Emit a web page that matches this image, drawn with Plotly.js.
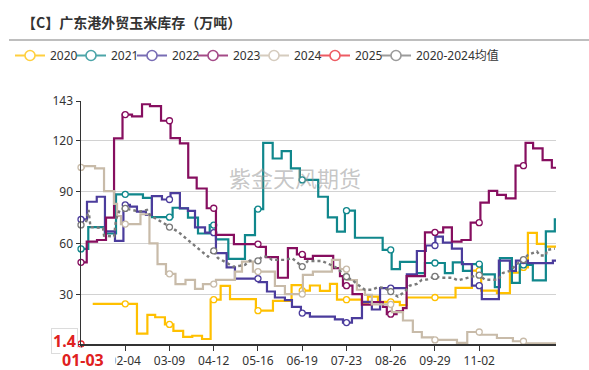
<!DOCTYPE html>
<html><head><meta charset="utf-8">
<script src="https://cdn.plot.ly/plotly-3.0.1.min.js"></script>
<style>html,body{margin:0;padding:0;background:#fff}#chart{width:589px;height:370px}</style>
</head><body><div id="chart"></div>
<script>
// category index axis (366 daily categories, labels every 34)
const tickIdx = [0,34,68,102,136,170,204,238,272,306];
const tickLabels = ['01-03','02-04','03-09','04-12','05-16','06-19','07-23','08-26','09-29','11-02'];
const markerIdx = [0,34,68,102,136,170,204,238,272,306,340];
const xEnd = 365;
const yTicks = [1.4,30,60,90,120,143];

const x2020 = [9,43,51,57,64.5,71,78.5,85.5,93,99.6,107.3,114.5,134.4,147.5,161.8,169.8,175.9,183.6,191.3,196.7,215.9,220.5,228.2,245,250.4,287.8,300.4,307.5,319.6,329.6,337.2,343.4,350.3,357.2,365];
const y2020 = [24.8,7.5,18.4,17,12.8,9,5.5,6.2,4.3,27.2,35.3,27.5,20.8,26.5,35.7,32.5,35.5,32.3,36.4,27.2,25.5,29,26,24,28.5,34.1,44.2,32.5,31,43,46,66.2,59.7,58.2,58.2];

const x2021 = [0,5.6,18.4,26.9,47.6,54.5,70.4,76,82.2,89.9,98.9,103.7,113.2,126,133.7,140,147.3,154.2,161.3,168.2,182.3,189.7,196.7,202.8,210.5,231.8,238.7,245.1,258.1,264.3,279.6,285.7,293.5,300.4,308,318,321.9,331.1,337.2,347.2,357.2,364.1,365];
const y2021 = [56.8,69.5,65.8,88.6,86.6,75.3,80.8,80.4,75,65.8,70.7,62.4,51,64.9,80,118.6,109.5,113.8,103.7,97,87.2,75.2,66.9,79.1,63.3,56.2,45,49.2,42.7,48.6,42.7,49,44,48,42,34.5,51.4,37,47.5,38.5,67,74,74];

const x2022 = [0,4.6,12.1,18.4,26.1,32.6,37.6,43,49.9,54.5,62.2,68.8,76,82.2,87.6,95.3,103.7,111.9,118.3,136.5,142.9,149,156.7,162.1,169,175.9,195.1,201.3,208.2,215.9,223.5,229.8,250.4,258.1,265,272.3,278.1,285,292.7,300.4,308,321.1,329.6,334.2,343.4,362.6,365];
const y2022 = [74,84.3,87.2,67,61.5,82.5,81.4,78.5,76.7,87.6,85.6,89.3,80.5,79,69.4,66.3,54.3,46,39.5,37.5,32,28.5,27,23,19.4,17.4,15.8,13.9,16.5,26,21.5,34,42,55.6,58.8,64,60.5,57,48,35.4,27.5,50,44,50,48.5,50,50];

const x2023 = [0,4.4,12.3,19.2,25.4,31.9,39.2,46.9,53,61.5,68.8,76,82.4,88.9,96.6,103.7,117.5,136.5,142.1,151.3,159,165.9,172.1,178.2,193.8,199,201.3,208.6,215.9,223.5,232,235,242.5,247.4,250.2,264.3,278.3,285,292.4,299.4,306.9,313.4,319.8,326.5,333.9,341.6,347.4,354.7,361.8,365];
const y2023 = [49,61,62,75,121.2,135.1,134,141.1,140,131.5,121.4,118.3,98.3,92,80.5,65,59.6,58,52,40,57.3,53.6,51,52.8,45.6,41,35.4,30.5,24.4,25.8,23,18.8,20.4,22.3,40.9,66.4,69.4,61,62,72.1,83.8,90.6,88.3,86.3,105.3,118.6,115.4,108.6,104.1,104.1];

const x2024 = [0,2.3,10.8,17.7,25.4,27.7,30.7,45.7,52.6,58.8,65.3,72.6,80.3,87.6,93.7,103.7,118.3,123.7,132.1,149,156.7,170.5,178.2,192.8,199,204.3,212,218.2,223.5,238.9,247.4,255,261.9,270.4,288.9,296.8,306.5,319.6,331.9,341,365];
const y2024 = [104.3,105,103.7,90.5,83,76,71.3,77,60,48,42.3,36.3,38.8,33.5,36.3,38.8,43.6,49.4,43.6,35.2,30.5,41.7,43.6,50.4,45,38.7,33,30,24.5,20,15.1,8.4,5.3,3.8,2,8.4,6.8,4.9,3,1.8,1.8];

const x2025 = [0];
const y2025 = [1.4];

const xAvg = [0,3.8,5.8,7.3,16.9,17.7,25.4,26.9,30,34,45.3,50.7,53,60.7,67.8,74.5,82.2,89.9,97.6,101.6,105.2,111.4,116.8,122.1,126,129.8,135.4,139,143.7,146.7,156.7,162.1,170,174.4,185.1,190.5,195.9,203.6,208.2,212.8,218.2,223.5,228.2,233.5,237.9,243.5,249,252.7,258.1,261.9,265.8,271.9,277.3,285,289.6,295,305.7,310.4,320.4,324.2,329.6,335,339.8,343.4,350.3,352.6,357.2,358,364.1];
const yAvg = [70.8,72,79.5,69.5,69,64.5,64,74,80,80.4,78.5,79.5,76.5,73,69.6,66.9,62,57.2,52.3,56.2,51.5,49,46.5,47,47.5,50,49.4,52.3,52.3,50.4,50.4,51.5,46.5,49.8,49.8,48,46,40.8,38.8,36,33,33,34.5,34,32,29,32,35.4,36.4,38.8,39,40.8,40,40,38.5,39.5,41.7,38.8,38.8,42.8,44,48,50.4,53.3,55.3,53,53,56.2,57];

const series = [
  {name:'2020', x:x2020, y:y2020, color:'#ffc000', shape:'hv'},
  {name:'2021', x:x2021, y:y2021, color:'#10878c', shape:'hv'},
  {name:'2022', x:x2022, y:y2022, color:'#4b3c9c', shape:'hv'},
  {name:'2023', x:x2023, y:y2023, color:'#860e5f', shape:'hv'},
  {name:'2024', x:x2024, y:y2024, color:'#c8bba9', shape:'hv'},
  {name:'2025', x:x2025, y:y2025, color:'#e8252f', shape:'hv'},
  {name:'2020-2024均值', x:xAvg, y:yAvg, color:'#7a7a7a', shape:'linear', dash:'dot'}
];

function valueAt(xs, ys, x, shape){
  if (x < xs[0] || x > xs[xs.length-1]) return null;
  if (xs.length === 1) return ys[0];
  for (let i = 0; i < xs.length - 1; i++){
    if (x >= xs[i] && x < xs[i+1]){
      if (shape === 'hv') return ys[i];
      const t = (x - xs[i]) / (xs[i+1] - xs[i]);
      return ys[i] + t * (ys[i+1] - ys[i]);
    }
  }
  return ys[ys.length-1];
}

const W = 589, H = 370, mL = 81, mR = 33, mT = 101, mB = 26;
const pw = W - mL - mR, ph = H - mT - mB;
const legendLeft = [10, 71, 132, 193, 254, 315, 376];   // px, one legend box per entry

const traces = [];
const legendTraces = [];
const legends = {};
series.forEach((s, k) => {
  if (s.x.length > 1) {
    traces.push({x:s.x, y:s.y, type:'scatter', mode:'lines', showlegend:false, hoverinfo:'skip',
      line:{color:s.color, width: s.dash ? 2.4 : 2.2, shape:s.shape, dash: s.dash || 'solid'}});
  }
  const mx = [], my = [];
  markerIdx.forEach(i => { const v = valueAt(s.x, s.y, i, s.shape); if (v !== null) { mx.push(i); my.push(v); } });
  traces.push({x:mx, y:my, type:'scatter', mode:'markers', showlegend:false, hoverinfo:'skip', cliponaxis:false,
    marker:{size:6, color:'#ffffff', line:{color:s.color, width:1.3}}});
  const lg = k === 0 ? 'legend' : 'legend' + (k + 1);
  legendTraces.push({x:[null], y:[null], type:'scatter', mode:'lines+markers', name:s.name, opacity:0.75, legend:lg,
    line:{color:s.color, width:2}, marker:{size:10, color:'#ffffff', line:{color:s.color, width:1.6}}});
  legends[lg] = {orientation:'h', xref:'container', yref:'container', x:legendLeft[k]/W, xanchor:'left',
    y: 1 - 41/H, yanchor:'top', font:{size:12, color:'#333'}, itemwidth:30, bgcolor:'rgba(0,0,0,0)'};
});

const layout = Object.assign({
  width: W, height: H,
  margin: {l:mL, r:mR, t:mT, b:mB, pad:0},
  paper_bgcolor:'#fff', plot_bgcolor:'#fff',
  font: {family:'Noto Sans, Noto Sans CJK SC, sans-serif', size:12, color:'#333'},
  title: {text:'<b>【C】广东港外贸玉米库存（万吨）</b>', font:{family:'Noto Sans CJK SC', size:14, color:'#333'},
    x: 22/W, xanchor:'left', xref:'container', y: 1 - 23/H, yanchor:'middle', yref:'container'},
  showlegend: true,
  xaxis: {range:[0, xEnd], tickmode:'array', tickvals:tickIdx, ticktext:tickLabels.map((t,i)=> i===0 ? '' : t), showgrid:false, zeroline:false,
    showline:true, linecolor:'#333', linewidth:1.5, ticks:'outside', ticklen:5, tickcolor:'#333', tickwidth:1,
    tickfont:{size:12, color:'#333'}, fixedrange:true},
  yaxis: {range:[1.4, 143], tickmode:'array', tickvals:yTicks, ticktext:yTicks.map((t,i)=> i===0 ? '' : String(t)), showgrid:true, gridcolor:'#d2d2d2', gridwidth:1,
    zeroline:false, showline:true, linecolor:'#333', linewidth:1.5, ticks:'outside', ticklen:4, tickcolor:'#333',
    tickfont:{size:12, color:'#333'}, fixedrange:true},
  shapes: [
    {type:'line', xref:'paper', yref:'paper', x0:(9 - mL)/pw, x1:(W - mL)/pw, y0:1 + (mT - 40)/ph, y1:1 + (mT - 40)/ph,
     line:{color:'#a8a8a8', width:1.5}}
  ],
  annotations: [
    {xref:'paper', yref:'paper', x:(295 - mL)/pw, y:(H - mB - 176.5)/ph, text:'紫金天风期货', showarrow:false,
     font:{family:'Noto Sans CJK SC', size:22, color:'rgba(150,150,150,0.55)'}, xanchor:'center', yanchor:'middle'},
    {xref:'paper', yref:'y', x:(78 - mL)/pw, y:y2025[0], text:'<b>' + y2025[0] + '</b>', showarrow:false, xanchor:'right', yanchor:'middle', yshift:3,
     font:{family:'Noto Sans', size:16, color:'#e02020'}, bgcolor:'#ffffff', bordercolor:'#dcdcdc', borderwidth:1, borderpad:1},
    {xref:'x', yref:'paper', x:x2025[0], y:0, text:'<b>' + tickLabels[0] + '</b>', showarrow:false, xanchor:'left', yanchor:'top', xshift:-21, yshift:-3,
     width:52, align:'left', font:{family:'Noto Sans', size:16, color:'#e02020'}, bgcolor:'#ffffff', borderpad:1}
  ]
}, legends);

Plotly.newPlot('chart', traces.concat(legendTraces), layout, {staticPlot:true, displayModeBar:false});
</script>
</body></html>
